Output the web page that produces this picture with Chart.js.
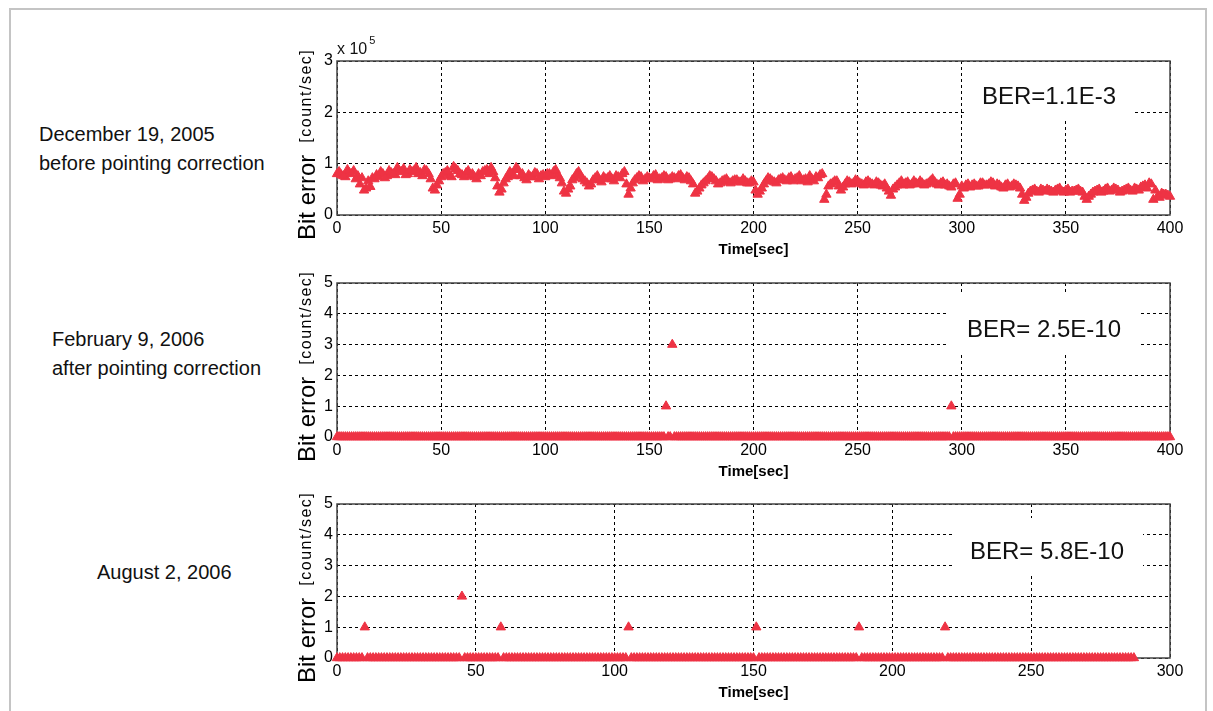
<!DOCTYPE html>
<html>
<head>
<meta charset="utf-8">
<script src="https://cdn.jsdelivr.net/npm/chart.js@4.4.1/dist/chart.umd.min.js"></script>
<style>
  body { margin: 0; background: #fff; font-family: "Liberation Sans", Arial, sans-serif; }
  #frame { position: absolute; left: 9px; top: 8px; width: 1194px; height: 720px; border: 2px solid #c4c4c4; }
  .note { position: absolute; font-size: 20px; line-height: 29px; color: #111; white-space: nowrap; }
  .panel { position: absolute; left: 280px; width: 933px; height: 230px; }
</style>
</head>
<body>
<div id="frame"></div>
<div class="note" style="left:39px; top:120px;">December 19, 2005<br>before pointing correction</div>
<div class="note" style="left:52px; top:325px;">February 9, 2006<br>after pointing correction</div>
<div class="note" style="left:97px; top:558px;">August 2, 2006</div>

<div class="panel" style="top:30px;"><canvas id="dec19Chart"></canvas></div>
<div class="panel" style="top:252px;"><canvas id="feb9Chart"></canvas></div>
<div class="panel" style="top:473px;"><canvas id="aug2Chart"></canvas></div>

<script>
// December 19, 2005 - bit error in units of 10^5 count/sec
// even seconds t = 0, 2, ..., 400
const dec19Even = [
  0.80, 0.78, 0.74, 0.82, 0.86, 0.76, 0.72, 0.52, 0.55, 0.70,
  0.74, 0.80, 0.76, 0.82, 0.78, 0.86, 0.90, 0.80, 0.84, 0.92,
  0.82, 0.88, 0.80, 0.52, 0.58, 0.74, 0.82, 0.76, 0.94, 0.86,
  0.78, 0.82, 0.76, 0.74, 0.80, 0.84, 0.88, 0.92, 0.72, 0.44,
  0.62, 0.74, 0.80, 0.92, 0.76, 0.72, 0.78, 0.74, 0.80, 0.76,
  0.74, 0.80, 0.84, 0.78, 0.62, 0.42, 0.56, 0.72, 0.84, 0.70,
  0.62, 0.60, 0.72, 0.68, 0.74, 0.72, 0.70, 0.76, 0.72, 0.84,
  0.40, 0.62, 0.72, 0.74, 0.70, 0.72, 0.76, 0.68, 0.72, 0.74,
  0.70, 0.72, 0.76, 0.72, 0.74, 0.66, 0.42, 0.52, 0.62, 0.70,
  0.74, 0.66, 0.62, 0.68, 0.64, 0.66, 0.68, 0.64, 0.66, 0.62,
  0.64, 0.40, 0.52, 0.66, 0.70, 0.64, 0.68, 0.72, 0.66, 0.74,
  0.70, 0.76, 0.68, 0.64, 0.70, 0.74, 0.78, 0.30, 0.56, 0.62,
  0.66, 0.48, 0.60, 0.64, 0.62, 0.66, 0.60, 0.64, 0.62, 0.58,
  0.62, 0.56, 0.52, 0.38, 0.54, 0.62, 0.58, 0.64, 0.60, 0.62,
  0.66, 0.58, 0.62, 0.70, 0.60, 0.62, 0.58, 0.56, 0.60, 0.32,
  0.56, 0.58, 0.54, 0.60, 0.56, 0.62, 0.58, 0.64, 0.56, 0.58,
  0.52, 0.60, 0.56, 0.58, 0.52, 0.28, 0.42, 0.48, 0.46, 0.50,
  0.46, 0.48, 0.44, 0.50, 0.46, 0.48, 0.44, 0.46, 0.50, 0.44,
  0.30, 0.40, 0.46, 0.50, 0.46, 0.52, 0.48, 0.50, 0.44, 0.48,
  0.52, 0.46, 0.50, 0.54, 0.58, 0.62, 0.30, 0.36, 0.42, 0.40,
  0.36
];
// odd seconds t = 1, 3, ..., 399
const dec19Odd = [
  0.84, 0.76, 0.88, 0.80, 0.70, 0.60, 0.48, 0.66, 0.72, 0.78,
  0.84, 0.72, 0.86, 0.80, 0.92, 0.84, 0.78, 0.88, 0.86, 0.80,
  0.76, 0.86, 0.70, 0.48, 0.66, 0.80, 0.86, 0.74, 0.90, 0.80,
  0.74, 0.86, 0.80, 0.70, 0.76, 0.86, 0.80, 0.84, 0.56, 0.50,
  0.70, 0.84, 0.76, 0.88, 0.80, 0.68, 0.74, 0.82, 0.70, 0.78,
  0.80, 0.76, 0.88, 0.72, 0.46, 0.50, 0.68, 0.80, 0.76, 0.66,
  0.56, 0.68, 0.76, 0.64, 0.70, 0.76, 0.66, 0.74, 0.80, 0.60,
  0.52, 0.68, 0.76, 0.66, 0.74, 0.70, 0.78, 0.70, 0.76, 0.68,
  0.74, 0.70, 0.78, 0.68, 0.72, 0.60, 0.46, 0.58, 0.66, 0.76,
  0.70, 0.60, 0.66, 0.70, 0.62, 0.68, 0.64, 0.70, 0.62, 0.66,
  0.48, 0.46, 0.60, 0.72, 0.66, 0.62, 0.70, 0.68, 0.72, 0.66,
  0.72, 0.66, 0.70, 0.76, 0.66, 0.72, 0.80, 0.40, 0.60, 0.66,
  0.56, 0.54, 0.66, 0.60, 0.68, 0.62, 0.58, 0.66, 0.60, 0.64,
  0.58, 0.60, 0.46, 0.50, 0.58, 0.66, 0.62, 0.58, 0.66, 0.60,
  0.62, 0.60, 0.66, 0.64, 0.58, 0.64, 0.60, 0.54, 0.62, 0.40,
  0.52, 0.60, 0.58, 0.56, 0.62, 0.58, 0.60, 0.62, 0.60, 0.54,
  0.58, 0.54, 0.60, 0.56, 0.40, 0.34, 0.46, 0.50, 0.44, 0.48,
  0.50, 0.46, 0.48, 0.52, 0.44, 0.50, 0.46, 0.48, 0.46, 0.36,
  0.36, 0.44, 0.48, 0.44, 0.50, 0.46, 0.52, 0.48, 0.46, 0.50,
  0.48, 0.52, 0.48, 0.56, 0.52, 0.60, 0.48, 0.34, 0.40, 0.38
];

// February 9, 2006 - count/sec, one value per second, t = 0..400 s
const feb9Values = [
  0, 0, 0, 0, 0, 0, 0, 0, 0, 0, 0, 0, 0, 0, 0, 0, 0, 0, 0, 0,
  0, 0, 0, 0, 0, 0, 0, 0, 0, 0, 0, 0, 0, 0, 0, 0, 0, 0, 0, 0,
  0, 0, 0, 0, 0, 0, 0, 0, 0, 0, 0, 0, 0, 0, 0, 0, 0, 0, 0, 0,
  0, 0, 0, 0, 0, 0, 0, 0, 0, 0, 0, 0, 0, 0, 0, 0, 0, 0, 0, 0,
  0, 0, 0, 0, 0, 0, 0, 0, 0, 0, 0, 0, 0, 0, 0, 0, 0, 0, 0, 0,
  0, 0, 0, 0, 0, 0, 0, 0, 0, 0, 0, 0, 0, 0, 0, 0, 0, 0, 0, 0,
  0, 0, 0, 0, 0, 0, 0, 0, 0, 0, 0, 0, 0, 0, 0, 0, 0, 0, 0, 0,
  0, 0, 0, 0, 0, 0, 0, 0, 0, 0, 0, 0, 0, 0, 0, 0, 0, 0, 1, 0,
  0, 3, 0, 0, 0, 0, 0, 0, 0, 0, 0, 0, 0, 0, 0, 0, 0, 0, 0, 0,
  0, 0, 0, 0, 0, 0, 0, 0, 0, 0, 0, 0, 0, 0, 0, 0, 0, 0, 0, 0,
  0, 0, 0, 0, 0, 0, 0, 0, 0, 0, 0, 0, 0, 0, 0, 0, 0, 0, 0, 0,
  0, 0, 0, 0, 0, 0, 0, 0, 0, 0, 0, 0, 0, 0, 0, 0, 0, 0, 0, 0,
  0, 0, 0, 0, 0, 0, 0, 0, 0, 0, 0, 0, 0, 0, 0, 0, 0, 0, 0, 0,
  0, 0, 0, 0, 0, 0, 0, 0, 0, 0, 0, 0, 0, 0, 0, 0, 0, 0, 0, 0,
  0, 0, 0, 0, 0, 0, 0, 0, 0, 0, 0, 0, 0, 0, 0, 1, 0, 0, 0, 0,
  0, 0, 0, 0, 0, 0, 0, 0, 0, 0, 0, 0, 0, 0, 0, 0, 0, 0, 0, 0,
  0, 0, 0, 0, 0, 0, 0, 0, 0, 0, 0, 0, 0, 0, 0, 0, 0, 0, 0, 0,
  0, 0, 0, 0, 0, 0, 0, 0, 0, 0, 0, 0, 0, 0, 0, 0, 0, 0, 0, 0,
  0, 0, 0, 0, 0, 0, 0, 0, 0, 0, 0, 0, 0, 0, 0, 0, 0, 0, 0, 0,
  0, 0, 0, 0, 0, 0, 0, 0, 0, 0, 0, 0, 0, 0, 0, 0, 0, 0, 0, 0,
  0
];

// August 2, 2006 - count/sec, one value per second, t = 0..287 s
const aug2Values = [
  0, 0, 0, 0, 0, 0, 0, 0, 0, 0, 1, 0, 0, 0, 0, 0, 0, 0, 0, 0,
  0, 0, 0, 0, 0, 0, 0, 0, 0, 0, 0, 0, 0, 0, 0, 0, 0, 0, 0, 0,
  0, 0, 0, 0, 0, 2, 0, 0, 0, 0, 0, 0, 0, 0, 0, 0, 0, 0, 0, 1,
  0, 0, 0, 0, 0, 0, 0, 0, 0, 0, 0, 0, 0, 0, 0, 0, 0, 0, 0, 0,
  0, 0, 0, 0, 0, 0, 0, 0, 0, 0, 0, 0, 0, 0, 0, 0, 0, 0, 0, 0,
  0, 0, 0, 0, 0, 1, 0, 0, 0, 0, 0, 0, 0, 0, 0, 0, 0, 0, 0, 0,
  0, 0, 0, 0, 0, 0, 0, 0, 0, 0, 0, 0, 0, 0, 0, 0, 0, 0, 0, 0,
  0, 0, 0, 0, 0, 0, 0, 0, 0, 0, 0, 1, 0, 0, 0, 0, 0, 0, 0, 0,
  0, 0, 0, 0, 0, 0, 0, 0, 0, 0, 0, 0, 0, 0, 0, 0, 0, 0, 0, 0,
  0, 0, 0, 0, 0, 0, 0, 0, 1, 0, 0, 0, 0, 0, 0, 0, 0, 0, 0, 0,
  0, 0, 0, 0, 0, 0, 0, 0, 0, 0, 0, 0, 0, 0, 0, 0, 0, 0, 0, 1,
  0, 0, 0, 0, 0, 0, 0, 0, 0, 0, 0, 0, 0, 0, 0, 0, 0, 0, 0, 0,
  0, 0, 0, 0, 0, 0, 0, 0, 0, 0, 0, 0, 0, 0, 0, 0, 0, 0, 0, 0,
  0, 0, 0, 0, 0, 0, 0, 0, 0, 0, 0, 0, 0, 0, 0, 0, 0, 0, 0, 0,
  0, 0, 0, 0, 0, 0, 0, 0
];

const berLabels = ['BER=1.1E-3', 'BER= 2.5E-10', 'BER= 5.8E-10'];

const markerRed = '#ee3344';

function toPoints(values, step, offset) {
  return values.map((v, i) => ({ x: offset + i * step, y: v }));
}

// white BER box, y title, exponent label and the plot frame
const panelDecor = {
  id: 'panelDecor',
  beforeDatasetsDraw(chart, args, opts) {
    const { ctx, chartArea: a } = chart;
    ctx.save();

    ctx.fillStyle = '#fff';
    ctx.fillRect(a.left + opts.box[0], a.top + opts.box[1], opts.box[2], opts.box[3]);
    ctx.fillStyle = '#111';
    ctx.font = '24px "Liberation Sans", Arial';
    ctx.textAlign = 'center';
    ctx.textBaseline = 'middle';
    ctx.fillText(opts.ber, a.left + opts.text[0], a.top + opts.text[1]);

    // y axis title: "Bit error [count/sec]" with two sizes
    ctx.save();
    ctx.translate(28, a.bottom + 25);
    ctx.rotate(-Math.PI / 2);
    ctx.textAlign = 'left';
    ctx.fillStyle = '#000';
    ctx.font = '24px "Liberation Sans", Arial';
    ctx.fillText('Bit error', 0, 0);
    const w = ctx.measureText('Bit error').width;
    ctx.font = '16px "Liberation Sans", Arial';
    ctx.letterSpacing = '1.5px';
    ctx.fillText('[count/sec]', w + 12, -1);
    ctx.letterSpacing = '0px';
    ctx.restore();

    if (opts.exponent) {
      ctx.textAlign = 'left';
      ctx.font = '16px "Liberation Sans", Arial';
      ctx.fillText('x 10', a.left, a.top - 11);
      const ew = ctx.measureText('x 10').width;
      ctx.font = '11px "Liberation Sans", Arial';
      ctx.fillText('5', a.left + ew + 2, a.top - 20);
    }

    ctx.strokeStyle = '#444';
    ctx.lineWidth = 1.5;
    ctx.strokeRect(a.left, a.top, a.right - a.left, a.bottom - a.top);
    ctx.restore();
  }
};

function makePanel(canvasId, points, xMax, yMax, decor) {
  const ctx = document.getElementById(canvasId).getContext('2d');
  return new Chart(ctx, {
    type: 'scatter',
    data: {
      datasets: [{
        data: points,
        pointStyle: 'triangle',
        pointRadius: 5.4,
        pointBackgroundColor: markerRed,
        pointBorderColor: markerRed,
        pointBorderWidth: 1,
        clip: false
      }]
    },
    options: {
      responsive: true,
      maintainAspectRatio: false,
      animation: false,
      layout: { padding: { left: 0, right: 43, top: 31, bottom: 0 } },
      plugins: {
        legend: { display: false },
        tooltip: { enabled: false },
        panelDecor: decor
      },
      scales: {
        x: {
          type: 'linear',
          min: 0,
          max: xMax,
          afterFit: (scale) => { scale.height = 45; },
          ticks: { stepSize: 50, padding: 4, color: '#000', font: { size: 16, family: '"Liberation Sans", Arial' } },
          grid: { color: '#000', lineWidth: 1, drawTicks: false },
          border: { display: false, dash: [3, 3] },
          title: {
            display: true,
            text: 'Time[sec]',
            color: '#000',
            font: { size: 15, weight: 'bold', family: '"Liberation Sans", Arial' },
            padding: { top: 0, bottom: 1 }
          }
        },
        y: {
          min: 0,
          max: yMax,
          afterFit: (scale) => { scale.width = 57; },
          ticks: { stepSize: 1, padding: 4, color: '#000', font: { size: 16, family: '"Liberation Sans", Arial' } },
          grid: { color: '#000', lineWidth: 1, drawTicks: false },
          border: { display: false, dash: [3, 3] }
        }
      }
    },
    plugins: [panelDecor]
  });
}

const dec19Points = toPoints(dec19Even, 2, 0).concat(toPoints(dec19Odd, 2, 1));

const dec19Chart = makePanel('dec19Chart', dec19Points, 400, 3,
  { ber: berLabels[0], box: [630, 1, 165, 56], text: [712, 36], exponent: true });

const feb9Chart = makePanel('feb9Chart', toPoints(feb9Values, 1, 0), 400, 5,
  { ber: berLabels[1], box: [611, 10, 192, 59], text: [707, 47], exponent: false });

const aug2Chart = makePanel('aug2Chart', toPoints(aug2Values, 1, 0), 300, 5,
  { ber: berLabels[2], box: [618, 14, 188, 55], text: [710, 48], exponent: false });
</script>
</body>
</html>
